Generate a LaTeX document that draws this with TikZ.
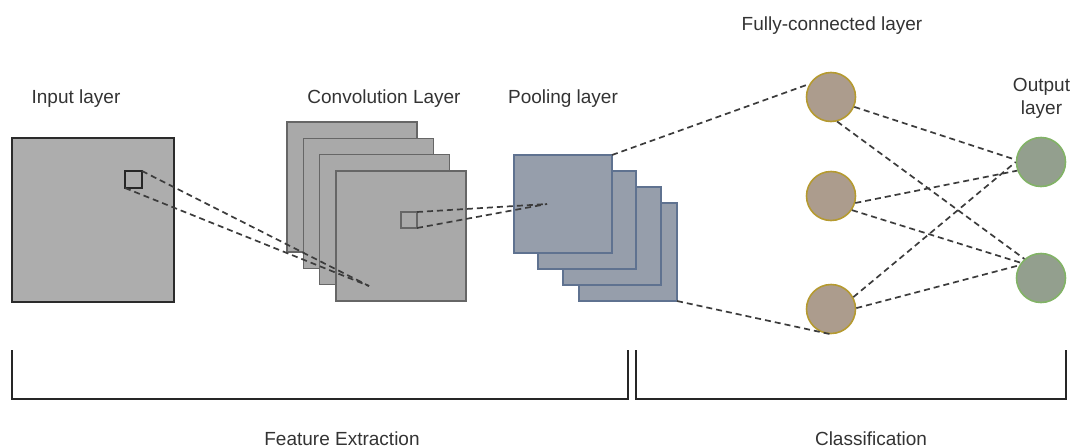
\documentclass[tikz,border=0pt]{standalone}
\usepackage{fontspec}
\setmainfont{Liberation Sans}

\definecolor{txt}{HTML}{333333}
\definecolor{inFill}{HTML}{ADADAD}
\definecolor{inLine}{HTML}{2B2B2B}
\definecolor{convFill}{HTML}{A9A9A9}
\definecolor{convLine}{HTML}{666666}
\definecolor{poolFill}{HTML}{969EAB}
\definecolor{poolLine}{HTML}{5F7290}
\definecolor{fcFill}{HTML}{AC9C8D}
\definecolor{fcLine}{HTML}{B59A30}
\definecolor{outFill}{HTML}{939F8E}
\definecolor{outLine}{HTML}{82B366}
\definecolor{link}{HTML}{3C3C3C}

\tikzset{
  sq/.style={draw, inner sep=0pt, outer sep=0pt, minimum width=#1, minimum height=#1},
  inputmap/.style={draw=inLine, fill=inFill, line width=1.6pt, inner sep=0pt, outer sep=0pt,
                   minimum width=162pt, minimum height=164pt},
  inkern/.style={sq=17pt, draw=black!85, line width=1.6pt},
  convmap/.style={sq=130pt, fill=convFill, draw=convLine, line width=1.3pt},
  convkern/.style={sq=16pt, draw=convLine, line width=1.3pt},
  poolmap/.style={sq=98pt, fill=poolFill, draw=poolLine, line width=1.3pt},
  fcunit/.style={circle, fill=fcFill, draw=fcLine, line width=1.6pt, minimum size=49pt, inner sep=0pt},
  outunit/.style={circle, fill=outFill, draw=outLine, line width=1.6pt, minimum size=49pt, inner sep=0pt},
  link/.style={draw=link, line width=1.7pt, dash pattern=on 6pt off 4pt},
  bracket/.style={draw=black!85, line width=1.6pt},
  lbl/.style={font=\fontsize{19}{23}\selectfont, text=txt, inner sep=0pt, outer sep=0pt}
}

\begin{document}
\begin{tikzpicture}[x=1pt, y=-1pt]
  \useasboundingbox (0,0) rectangle (1070,447);

  % input image and its receptive field
  \node[inputmap] (input) at (93,220) {};
  \node[inkern] (inkernel) at (133.5,179.5) {};

  % stack of convolution feature maps (back to front)
  \node[convmap] (c1) at (352,187) {};
  \node[convmap] (c2) at (368.3,203.3) {};
  \node[convmap] (c3) at (384.7,219.7) {};
  \node[convmap] (c4) at (401,236) {};
  \node[convkern] (convkernel) at (409,220) {};

  % stack of pooled maps (back to front)
  \node[poolmap] (p4) at (628,252) {};
  \node[poolmap] (p3) at (612,236) {};
  \node[poolmap] (p2) at (587,220) {};
  \node[poolmap] (p1) at (563,204) {};

  % fully-connected and output units
  \node[fcunit] (fc1) at (831,97) {};
  \node[fcunit] (fc2) at (831,196) {};
  \node[fcunit] (fc3) at (831,309) {};
  \node[outunit] (o1) at (1041,162) {};
  \node[outunit] (o2) at (1041,278) {};

  % projection targets inside the maps
  \coordinate (cf) at (369,286);
  \coordinate (pf) at (547,204);

  % dashed connections
  \draw[link] (inkernel.north east) -- (cf);
  \draw[link] (inkernel.south west) -- (cf);
  \draw[link] (convkernel.north east) -- (pf);
  \draw[link] (convkernel.south east) -- (pf);
  \draw[link] (p1.north east) -- (fc1.149);
  \draw[link] (p4.south east) -- (fc3.south);
  \draw[link] (fc1.-23) -- (o1.175);
  \draw[link] (fc1.-76) -- (o2.131);
  \draw[link] (fc2.-16) -- (o1.200);
  \draw[link] (fc2.-34) -- (o2.143);
  \draw[link] (fc3.28) -- (o1.180);
  \draw[link] (fc3.2) -- (o2.150);

  % section brackets
  \coordinate (fa) at (12,350);
  \coordinate (fb) at (628,399);
  \coordinate (ca) at (636,350);
  \coordinate (cb) at (1066,399);
  \draw[bracket] (fa) |- (fb) -- (fb |- fa);
  \draw[bracket] (ca) |- (cb) -- (cb |- ca);

  % labels
  \node[lbl, anchor=base] (tin) at (76,103) {Input layer};
  \node[lbl, anchor=base] (tconv) at (384,103) {Convolution Layer};
  \node[lbl, anchor=base] (tpool) at (563,103) {Pooling layer};
  \node[lbl, anchor=base] (tfc) at (832,30) {Fully-connected layer};
  \node[lbl, align=center] (tout) at (1041.5,98.6) {Output\\layer};
  \node[lbl, anchor=base] (tfe) at (342,445) {Feature Extraction};
  \node[lbl, anchor=base] (tcl) at (871,445) {Classification};
\end{tikzpicture}
\end{document}
